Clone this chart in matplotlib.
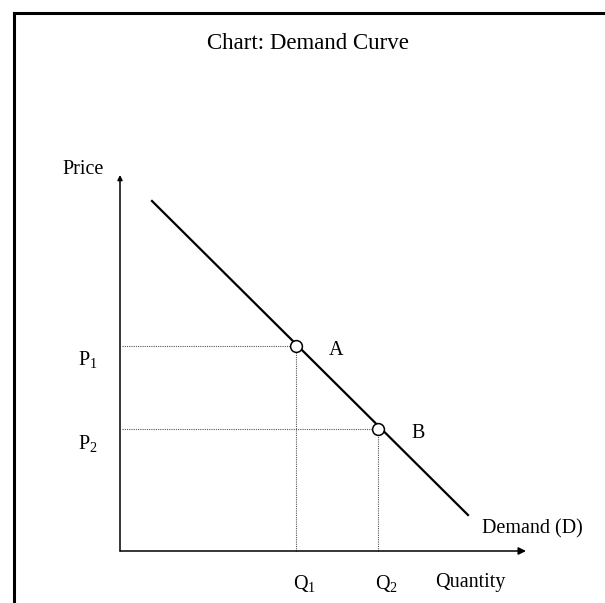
import matplotlib
matplotlib.use("Agg")
import matplotlib.pyplot as plt
from matplotlib.lines import Line2D

plt.rcParams['font.family'] = ['Liberation Serif', 'DejaVu Serif']
plt.rcParams['mathtext.fontset'] = 'custom'
plt.rcParams['mathtext.rm'] = 'Liberation Serif'
plt.rcParams['mathtext.it'] = 'Liberation Serif:italic'

# ---- data (quantity / price units) ----
title = "Chart: Demand Curve"
demand_q = [0.8, 8.7]
demand_p = [8.75, 0.9]
point_names = ["A", "B"]
point_q = [4.39, 6.45]
point_p = [5.13, 3.05]
q_labels = [r"Q$_{\mathrm{1}}$", r"Q$_{\mathrm{2}}$"]
p_labels = [r"P$_{\mathrm{1}}$", r"P$_{\mathrm{2}}$"]
x_axis_label = "Quantity"
y_axis_label = "Price"
curve_label = "Demand (D)"
x_axis_max = 10.15
y_axis_max = 9.4

OX, OY, S = 120, 551, 40   # layout: pixel origin and pixels per unit
W, H = 605, 603
fig = plt.figure(figsize=(W / 100, H / 100), dpi=100)
ax = fig.add_axes([0, 0, 1, 1])
ax.set_xlim(-OX / S, (W - OX) / S)
ax.set_ylim(-(H - OY) / S, OY / S)
ax.axis('off')


def px(x, y):
    return (x - OX) / S, (OY - y) / S


# outer frame (left and top edges visible)
fig.add_artist(Line2D([13.5 / W, 13.5 / W], [0, 1 - 12.5 / H], transform=fig.transFigure,
                      color='black', lw=2.2, solid_capstyle='projecting'))
fig.add_artist(Line2D([13.5 / W, 1], [1 - 12.5 / H, 1 - 12.5 / H], transform=fig.transFigure,
                      color='black', lw=2.2, solid_capstyle='projecting'))

# axes with arrows
ax.annotate('', xy=(x_axis_max, 0), xytext=(0, 0),
            arrowprops=dict(arrowstyle='-|>', lw=1.1, color='black', mutation_scale=11,
                            shrinkA=0, shrinkB=0))
ax.annotate('', xy=(0, y_axis_max), xytext=(0, 0),
            arrowprops=dict(arrowstyle='-|>', lw=1.1, color='black', mutation_scale=7,
                            shrinkA=0, shrinkB=0))

# guide lines
for q, p in zip(point_q, point_p):
    ax.plot([0.05, q], [p, p], color='#555555', lw=0.8, ls=(0, (1, 1)), zorder=2)
    ax.plot([q, q], [0, p], color='#555555', lw=0.8, ls=(0, (1, 1)), zorder=2)

# demand curve
ax.plot(demand_q, demand_p, color='black', lw=1.6, zorder=3)
ax.plot(point_q, point_p, 'o', ms=8.5, mfc='white', mec='black', mew=1.1, zorder=4)

fs = 14.5
for name, q, p in zip(point_names, point_q, point_p):
    ax.text(q + 1.0, p - 0.12, name, fontsize=fs, ha='center', va='center')
for lab, q in zip(q_labels, point_q):
    ax.text(q + 0.22, -0.8, lab, fontsize=fs, ha='center', va='center')
for lab, p in zip(p_labels, point_p):
    ax.text(-0.8, p - 0.35, lab, fontsize=fs, ha='center', va='center')

ax.text(*px(83, 169), y_axis_label, fontsize=fs, ha='center', va='center')
ax.text(*px(470, 582), x_axis_label, fontsize=fs, ha='center', va='center')
ax.text(*px(532, 529), curve_label, fontsize=fs, ha='center', va='center')
ax.text(*px(308, 43), title, fontsize=16.5, ha='center', va='center')

fig.savefig('out.png', dpi=100)
